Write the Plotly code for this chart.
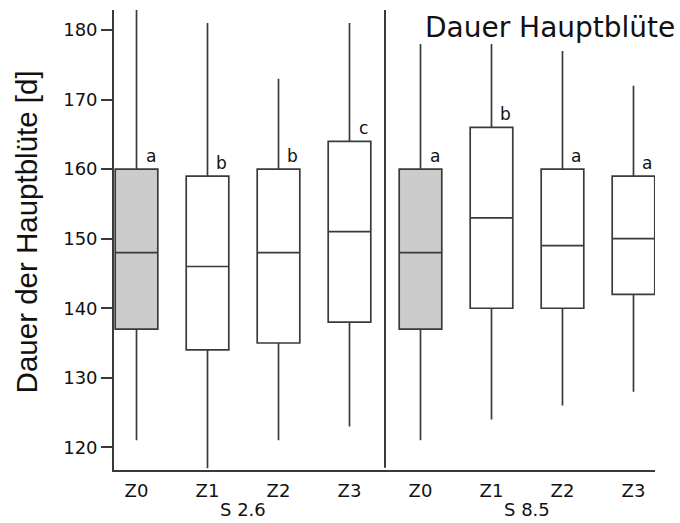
import plotly.graph_objects as go

# Flowering duration statistics per treatment (days)
groups = ["S 2.6", "S 8.5"]
treatments = ["Z0", "Z1", "Z2", "Z3"]
tick_labels = ["Z0", "Z1", "Z2", "Z3", "Z0", "Z1", "Z2", "Z3"]
lower_whisker = [121, 117, 121, 123, 121, 124, 126, 128]
q1_values = [137, 134, 135, 138, 137, 140, 140, 142]
median_values = [148, 146, 148, 151, 148, 153, 149, 150]
q3_values = [160, 159, 160, 164, 160, 166, 160, 159]
upper_whisker = [185, 181, 173, 181, 178, 178, 177, 172]
letters = ["a", "b", "b", "c", "a", "b", "a", "a"]
fill_colors = ["#cccccc", "#ffffff", "#ffffff", "#ffffff",
               "#cccccc", "#ffffff", "#ffffff", "#ffffff"]

positions = list(range(len(tick_labels)))
line_col = "#3a3a3a"
hfont = "DejaVu Sans"

fig = go.Figure()
for i, p in enumerate(positions):
    fig.add_trace(go.Box(
        x=[p],
        q1=[q1_values[i]], median=[median_values[i]], q3=[q3_values[i]],
        lowerfence=[lower_whisker[i]], upperfence=[upper_whisker[i]],
        width=0.6, whiskerwidth=0,
        fillcolor=fill_colors[i],
        line=dict(color=line_col, width=1.7),
        boxpoints=False, showlegend=False, hoverinfo="skip",
    ))
    fig.add_annotation(
        x=p, y=q3_values[i], text=letters[i], showarrow=False,
        xanchor="center", yanchor="bottom", xshift=14, yshift=1,
        font=dict(family=hfont, size=17, color="#111111"),
    )

# separator between the two site groups
n = len(treatments)
fig.add_shape(type="line", xref="x", yref="paper",
              x0=n - 0.5, x1=n - 0.5, y0=0.005, y1=1,
              line=dict(color=line_col, width=2))

# group labels under the treatment ticks
for g, name in enumerate(groups):
    fig.add_annotation(
        x=g * n + (n - 1) / 2, y=0, xref="x", yref="paper",
        text=name, showarrow=False, yanchor="middle", yshift=-39,
        font=dict(family=hfont, size=18, color="#111111"),
    )

fig.add_annotation(
    x=1.04, y=0.963, xref="paper", yref="paper", text="Dauer Hauptblüte",
    showarrow=False, xanchor="right", yanchor="middle",
    font=dict(family=hfont, size=28, color="#111111"),
)
fig.add_annotation(
    x=-0.161, y=0.5185, xref="paper", yref="paper",
    text="Dauer der Hauptblüte [d]", textangle=-90, showarrow=False,
    xanchor="center", yanchor="middle",
    font=dict(family="Liberation Sans", size=29.5, color="#111111"),
)

fig.update_layout(
    width=680, height=523,
    margin=dict(l=114, r=25, t=10, b=53),
    paper_bgcolor="white", plot_bgcolor="white",
    xaxis=dict(
        range=[-0.317, 7.303], tickvals=positions, ticktext=tick_labels,
        showline=True, linecolor=line_col, linewidth=1.7, ticks="",
        ticklabelstandoff=4,
        showgrid=False, zeroline=False,
        tickfont=dict(family=hfont, size=18, color="#111111"),
    ),
    yaxis=dict(
        range=[116.74, 182.88], tickvals=[120, 130, 140, 150, 160, 170, 180],
        showline=True, linecolor=line_col, linewidth=1.7,
        ticks="outside", ticklen=11, tickwidth=1.5, tickcolor=line_col,
        showgrid=False, zeroline=False,
        tickfont=dict(family=hfont, size=18, color="#111111"),
    ),
)

fig.write_html("out.html")
